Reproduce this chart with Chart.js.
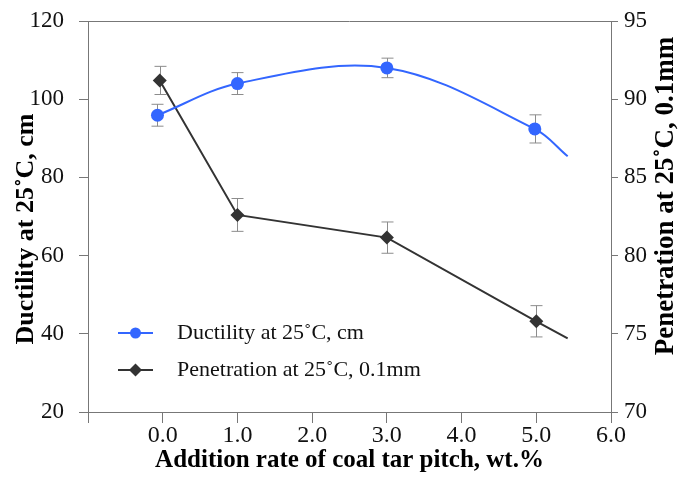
<!DOCTYPE html>
<html>
<head>
<meta charset="utf-8">
<script src="https://cdn.jsdelivr.net/npm/chart.js@4"></script>
<style>
  html, body { margin: 0; padding: 0; background: #fff; }
</style>
</head>
<body>
<canvas id="myChart" width="679" height="481"></canvas>
<script>
(function(){
// ductility at 25 C (left axis); last x is the end of the smoothed line, no marker
const ductX = [-0.07, 1.0, 3.0, 4.98, 5.42];
const ductY = [95.9, 104.0, 108.0, 92.4, 85.4];
const ductErr = [2.8, 2.8, 2.5, 3.6, null];
// penetration at 25 C (right axis); last x is the end of the line, no marker
const penX = [-0.04, 1.0, 3.0, 5.0, 5.42];
const penY = [91.2, 82.6, 81.15, 75.8, 74.7];
const penErr = [0.9, 1.05, 1.0, 1.0, null];

const labelDuct = 'Ductility at 25˚C, cm';
const labelPen = 'Penetration at 25˚C, 0.1mm';
const titleX = 'Addition rate of coal tar pitch, wt.%';
const titleY = 'Ductility at 25˚C, cm';
const titleY2 = 'Penetration at 25˚C, 0.1mm';

const BLUE = '#3366ff';
const DARK = '#333333';
const AXIS = '#777777';
const SERIF = '"Liberation Serif", "Times New Roman", serif';

const pts = (xs, ys) => xs.map((x, i) => ({x: x, y: ys[i]}));

function legendMark(color, style, r) {
  const c = document.createElement('canvas');
  c.width = 48; c.height = 16;
  const g = c.getContext('2d');
  g.strokeStyle = color;
  g.lineWidth = 2;
  g.beginPath(); g.moveTo(0, 8); g.lineTo(35, 8); g.stroke();
  g.fillStyle = color;
  Chart.helpers.drawPoint(g, {pointStyle: style, radius: r, borderWidth: 0}, 17.5, 8);
  return c;
}

const errorBars = {
  id: 'errorBars',
  beforeDatasetsDraw(chart) {
    const ctx = chart.ctx;
    ctx.save();
    ctx.strokeStyle = '#8c8c8c';
    ctx.lineWidth = 1;
    chart.data.datasets.forEach((ds) => {
      if (!ds.errors) return;
      const xs = chart.scales.x, ys = chart.scales[ds.yAxisID];
      ds.data.forEach((p, i) => {
        const e = ds.errors[i];
        if (e == null) return;
        const px = Math.round(xs.getPixelForValue(p.x)) + 0.5;
        const top = ys.getPixelForValue(p.y + e), bot = ys.getPixelForValue(p.y - e);
        ctx.beginPath();
        ctx.moveTo(px, top); ctx.lineTo(px, bot);
        ctx.moveTo(px - 6, top); ctx.lineTo(px + 6, top);
        ctx.moveTo(px - 6, bot); ctx.lineTo(px + 6, bot);
        ctx.stroke();
      });
    });
    ctx.restore();
  }
};

function vTitle(ctx, text, x, y, size) {
  ctx.save();
  ctx.fillStyle = '#000';
  ctx.font = 'bold ' + size + 'px ' + SERIF;
  ctx.textAlign = 'center';
  ctx.textBaseline = 'middle';
  ctx.translate(x, y);
  ctx.rotate(-Math.PI / 2);
  ctx.fillText(text, 0, 0);
  ctx.restore();
}

const frame = {
  id: 'frame',
  beforeDraw(chart) {
    const lg = chart.legend;
    lg.left = 103; lg.right = 500;
    lg.top = 307; lg.bottom = 400;
  },
  afterDraw(chart) {
    const {ctx, chartArea: a} = chart;
    ctx.save();
    ctx.strokeStyle = AXIS;
    ctx.lineWidth = 1;
    ctx.beginPath();
    ctx.moveTo(a.left, Math.round(a.top) + 0.5);
    ctx.lineTo(a.right, Math.round(a.top) + 0.5);
    ctx.stroke();
    ctx.restore();
    vTitle(ctx, titleY, 26, 229, 26);
    vTitle(ctx, titleY2, 666, 196, 27);
  }
};

const tickGrid = {drawOnChartArea: false, drawTicks: true, tickLength: 9, color: AXIS, tickColor: AXIS};

// the value axes keep their label overhang out of the layout, padding sets the frame
function fixY(width) {
  return (s) => { s.width = width; s.paddingTop = 0; s.paddingBottom = 0; };
}

const config = {
  type: 'line',
  data: {
    datasets: [{
      label: labelDuct,
      data: pts(ductX, ductY),
      errors: ductErr,
      yAxisID: 'y',
      pointRadius: [6.5, 6.5, 6.5, 6.5, 0],
      pointBorderWidth: 0,
      backgroundColor: BLUE,
      borderColor: BLUE,
      borderWidth: 2,
      tension: 0.35
    }, {
      label: labelPen,
      data: pts(penX, penY),
      errors: penErr,
      yAxisID: 'y2',
      pointStyle: 'rectRot',
      pointRadius: [7, 7, 7, 7, 0],
      pointBorderWidth: 0,
      backgroundColor: DARK,
      borderColor: DARK,
      borderWidth: 2,
      tension: 0
    }]
  },
  options: {
    responsive: false,
    animation: false,
    layout: {padding: {top: 21, right: 0, bottom: 0, left: 0}},
    plugins: {
      tooltip: {enabled: false},
      legend: {
        position: 'chartArea',
        align: 'start',
        labels: {
          usePointStyle: true,
          pointStyleWidth: 48,
          padding: 15,
          color: '#111',
          font: {family: SERIF, size: 22},
          generateLabels: (chart) => {
            const items = Chart.defaults.plugins.legend.labels.generateLabels(chart);
            items.forEach((it) => {
              if (it.datasetIndex === 0) it.pointStyle = legendMark(BLUE, 'circle', 5.5);
              if (it.datasetIndex === 1) it.pointStyle = legendMark(DARK, 'rectRot', 6.5);
            });
            return items;
          }
        }
      }
    },
    scales: {
      x: {
        type: 'linear',
        min: -1, max: 6,
        grid: Object.assign({}, tickGrid, {tickLength: 11}),
        border: {color: AXIS},
        afterFit: (s) => { s.height = 69; },
        ticks: {
          stepSize: 1,
          padding: -2,
          color: '#111',
          font: {family: SERIF, size: 24},
          callback: (v) => v < 0 ? '' : v.toFixed(1)
        },
        title: {
          display: true,
          text: titleX,
          color: '#000',
          padding: {top: 0, bottom: 5},
          font: {family: SERIF, size: 25, weight: 'bold'}
        }
      },
      y: {
        position: 'left',
        min: 20, max: 120,
        grid: tickGrid,
        border: {color: AXIS},
        afterFit: fixY(88),
        ticks: {stepSize: 20, padding: 15, color: '#111', font: {family: SERIF, size: 23}}
      },
      y2: {
        position: 'right',
        min: 70, max: 95,
        grid: Object.assign({}, tickGrid, {tickLength: 7}),
        border: {color: AXIS},
        afterFit: fixY(68),
        ticks: {stepSize: 5, padding: 6, color: '#111', font: {family: SERIF, size: 23}}
      }
    }
  },
  plugins: [errorBars, frame]
};

new Chart(document.getElementById('myChart'), config);
})();
</script>
</body>
</html>
